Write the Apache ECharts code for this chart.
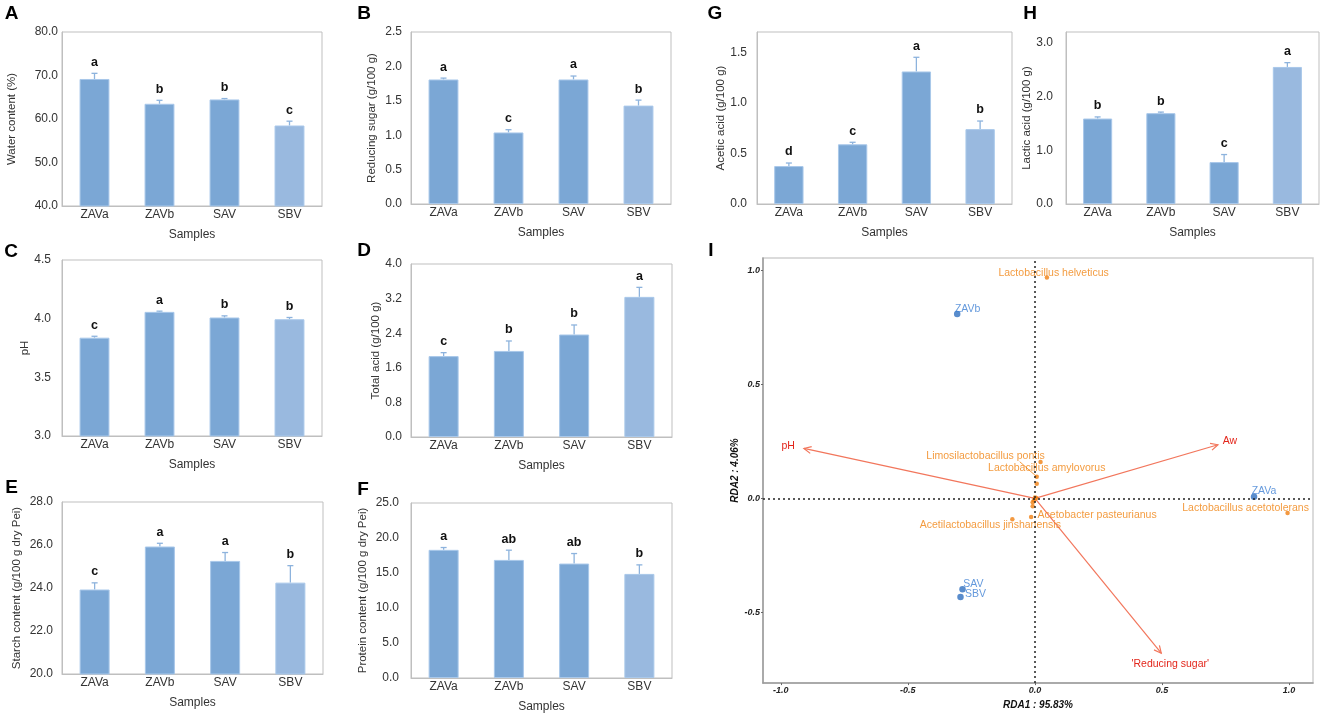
<!DOCTYPE html>
<html>
<head>
<meta charset="utf-8">
<script src="https://cdn.jsdelivr.net/npm/echarts@6/dist/echarts.min.js"></script>
<style>
html,body{margin:0;padding:0;background:#fff;}
#c{width:1325px;height:715px;}
</style>
</head>
<body>
<div id="c"></div>
<script>
// ---------- data ----------
const categories = ['ZAVa', 'ZAVb', 'SAV', 'SBV'];

const waterContent = [69.2, 63.5, 64.5, 58.5];
const waterErr = [1.3, 0.8, 0.2, 1.0];
const waterLetters = ['a', 'b', 'b', 'c'];

const reducingSugar = [1.81, 1.04, 1.81, 1.43];
const reducingErr = [0.02, 0.04, 0.05, 0.08];
const reducingLetters = ['a', 'c', 'a', 'b'];

const pHValues = [3.838, 4.058, 4.01, 3.995];
const pHErr = [0.012, 0.006, 0.014, 0.015];
const pHLetters = ['c', 'a', 'b', 'b'];

const totalAcid = [1.87, 1.99, 2.37, 3.24];
const totalAcidErr = [0.08, 0.23, 0.22, 0.22];
const totalAcidLetters = ['c', 'b', 'b', 'a'];

const starch = [23.93, 25.93, 25.26, 24.25];
const starchErr = [0.31, 0.15, 0.39, 0.79];
const starchLetters = ['c', 'a', 'a', 'b'];

const protein = [18.31, 16.87, 16.35, 14.87];
const proteinErr = [0.33, 1.39, 1.43, 1.29];
const proteinLetters = ['a', 'ab', 'ab', 'b'];

const aceticAcid = [0.375, 0.59, 1.31, 0.74];
const aceticErr = [0.03, 0.02, 0.14, 0.08];
const aceticLetters = ['d', 'c', 'a', 'b'];

const lacticAcid = [1.59, 1.69, 0.78, 2.55];
const lacticErr = [0.03, 0.02, 0.14, 0.08];
const lacticLetters = ['b', 'b', 'c', 'a'];

// RDA biplot
const sampleNames = ['ZAVa', 'ZAVb', 'SAV', 'SBV'];
const sampleX = [0.862, -0.306, -0.285, -0.293];
const sampleY = [0.007, 0.808, -0.398, -0.433];

const speciesNames = ['Lactobacillus helveticus', 'Limosilactobacillus pontis', 'Lactobacillus amylovorus',
  'Acetobacter pasteurianus', 'Acetilactobacillus jinshanensis', 'Lactobacillus acetotolerans',
  '', '', '', '', '', ''];
const speciesX = [0.047, 0.022, 0.007, -0.015, -0.089, 0.994, 0.007, 0.0, -0.009, -0.009, -0.004, 0.005];
const speciesY = [0.968, 0.159, 0.095, -0.082, -0.092, -0.064, 0.064, 0.004, -0.017, -0.034, -0.008, 0.002];

const envNames = ['pH', 'Aw', "'Reducing sugar'"];
const envX = [-0.909, 0.72, 0.497];
const envY = [0.219, 0.235, -0.679];

const xTicksRDA = [-1.0, -0.5, 0.0, 0.5, 1.0];
const yTicksRDA = [-0.5, 0.0, 0.5, 1.0];

// ---------- styles ----------
const FONT = '"Liberation Sans", Arial, sans-serif';
const barColors = ['#7ba7d5', '#7ba7d5', '#7ba7d5', '#99b9df'];
const barBorder = '#a9c8ea';
const errColor = '#8db3dd';
const sampleLabelOffsets = [[10, -5.3], [10.5, -5], [10.8, -5.3], [15, -3.3]];
const speciesLabelOffsets = [[6.7, -4.5], [-55, -6], [10, -9], [66, -1.5], [-22, 5.3], [-42, -5],
  [0, 0], [0, 0], [0, 0], [0, 0], [0, 0], [0, 0]];
const speciesLeaderOffsets = [null, null, [-17, -15], null, null, null, null, null, null, null, null, null];
const envLabelOffsets = [[-15.7, -2], [12, -4], [9, 11]];

const panels = [
  {values: waterContent, errs: waterErr, letters: waterLetters, name: 'Water content (%)',
   grid: {left: 62, top: 32, width: 260, height: 174}, min: 40, max: 80, interval: 10, lm: 4, ng: 44},
  {values: reducingSugar, errs: reducingErr, letters: reducingLetters, name: 'Reducing sugar (g/100 g)',
   grid: {left: 411, top: 32, width: 260, height: 172}, min: 0, max: 2.5, interval: 0.5, lm: 9, ng: 33},
  {values: pHValues, errs: pHErr, letters: pHLetters, name: 'pH',
   grid: {left: 62, top: 260, width: 260, height: 176}, min: 3.0, max: 4.5, interval: 0.5, lm: 11, ng: 31},
  {values: totalAcid, errs: totalAcidErr, letters: totalAcidLetters, name: 'Total acid (g/100 g)',
   grid: {left: 411, top: 264, width: 261, height: 173}, min: 0, max: 4.0, interval: 0.8, lm: 9, ng: 28},
  {values: starch, errs: starchErr, letters: starchLetters, name: 'Starch content (g/100 g dry Pei)',
   grid: {left: 62, top: 502, width: 261, height: 172}, min: 20, max: 28, interval: 2, lm: 9, ng: 39},
  {values: protein, errs: proteinErr, letters: proteinLetters, name: 'Protein content (g/100 g dry Pei)',
   grid: {left: 411, top: 503, width: 261, height: 175}, min: 0, max: 25, interval: 5, lm: 12, ng: 42},
  {values: aceticAcid, errs: aceticErr, letters: aceticLetters, name: 'Acetic acid (g/100 g)',
   grid: {left: 757, top: 32, width: 255, height: 172}, min: 0, max: 1.7, interval: 0.5, lm: 10, ng: 26, hideMax: true},
  {values: lacticAcid, errs: lacticErr, letters: lacticLetters, name: 'Lactic acid (g/100 g)',
   grid: {left: 1066, top: 32, width: 253, height: 172}, min: 0, max: 3.2, interval: 1.0, lm: 13, ng: 25, hideMax: true}
];

const grids = [], xAxes = [], yAxes = [], series = [];
const txt = {color: '#333', fontSize: 12, fontFamily: FONT};
const titleTxt = {color: '#333', fontSize: 11.5, fontFamily: FONT};

panels.forEach((p, k) => {
  grids.push(Object.assign({show: true, borderColor: '#bfbfbf', borderWidth: 1}, p.grid));
  xAxes.push({
    type: 'category', gridIndex: k, data: categories,
    axisLine: {lineStyle: {color: '#bfbfbf'}}, axisTick: {show: false},
    axisLabel: Object.assign({margin: 3}, txt),
    name: 'Samples', nameLocation: 'middle', nameGap: 23, nameTextStyle: txt
  });
  yAxes.push({
    type: 'value', gridIndex: k, min: p.min, max: p.max, interval: p.interval,
    splitLine: {show: false}, axisLine: {show: true, lineStyle: {color: '#bfbfbf'}}, axisTick: {show: false},
    axisLabel: Object.assign({margin: p.lm, formatter: v => v.toFixed(1), showMaxLabel: !p.hideMax}, txt),
    name: p.name, nameLocation: 'middle', nameGap: p.ng, nameTextStyle: titleTxt
  });
  series.push({
    type: 'bar', xAxisIndex: k, yAxisIndex: k, barWidth: '46%', silent: true,
    data: p.values.map((v, i) => ({value: v, itemStyle: {color: barColors[i], borderColor: barBorder, borderWidth: 1}}))
  });
  const letters = p.letters;
  series.push({
    type: 'custom', xAxisIndex: k, yAxisIndex: k, clip: false, silent: true,
    data: p.values.map((v, i) => [i, v, p.errs[i]]),
    renderItem: function (params, api) {
      const i = api.value(0), v = api.value(1), e = api.value(2);
      const b = api.coord([i, v]), t = api.coord([i, v + e]);
      const cap = 3;
      return {type: 'group', children: [
        {type: 'line', shape: {x1: b[0], y1: b[1], x2: t[0], y2: t[1]}, style: {stroke: errColor, lineWidth: 1.3}},
        {type: 'line', shape: {x1: t[0] - cap, y1: t[1], x2: t[0] + cap, y2: t[1]}, style: {stroke: errColor, lineWidth: 1.3}},
        {type: 'text', x: t[0], y: t[1] - 11, style: {text: letters[params.dataIndex], fill: '#111',
          font: 'bold 12.5px ' + FONT, align: 'center', verticalAlign: 'middle'}}
      ]};
    }
  });
});

// ---------- RDA panel ----------
const gi = 8;
const rdaTick = {fontSize: 9, fontWeight: 'bold', fontStyle: 'italic', color: '#222', fontFamily: FONT};
const rdaName = {fontSize: 10, fontWeight: 'bold', fontStyle: 'italic', color: '#111', fontFamily: FONT};
grids.push({show: true, left: 763, top: 258, width: 550, height: 427, borderColor: '#cfcfcf', borderWidth: 1.5});
xAxes.push({
  type: 'value', gridIndex: gi, min: -1.07, max: 1.094,
  splitLine: {show: false}, axisLine: {show: true, onZero: false, lineStyle: {color: '#9a9a9a', width: 1.5}},
  axisTick: {show: true, length: 2, customValues: xTicksRDA, lineStyle: {color: '#666'}},
  axisLabel: Object.assign({customValues: xTicksRDA, margin: 3, formatter: v => v.toFixed(1)}, rdaTick),
  name: 'RDA1 : 95.83%', nameLocation: 'middle', nameGap: 9, nameTextStyle: rdaName
});
yAxes.push({
  type: 'value', gridIndex: gi, min: -0.81, max: 1.054,
  splitLine: {show: false}, axisLine: {show: true, onZero: false, lineStyle: {color: '#9a9a9a', width: 1.5}},
  axisTick: {show: true, length: 2, customValues: yTicksRDA, lineStyle: {color: '#666'}},
  axisLabel: Object.assign({customValues: yTicksRDA, margin: 3, formatter: v => v.toFixed(1)}, rdaTick),
  name: 'RDA2 : 4.06%', nameLocation: 'middle', nameGap: 21, nameTextStyle: rdaName
});

// dotted zero lines
series.push({
  type: 'scatter', xAxisIndex: gi, yAxisIndex: gi, data: [], silent: true,
  markLine: {symbol: 'none', silent: true, label: {show: false},
    lineStyle: {color: '#222', type: [2, 3], width: 1.5},
    data: [{xAxis: 0}, {yAxis: 0}]}
});

// environmental arrows
series.push({
  type: 'custom', xAxisIndex: gi, yAxisIndex: gi, clip: false, silent: true,
  data: envX.map((x, i) => [x, envY[i]]),
  renderItem: function (params, api) {
    const s = api.coord([0, 0]), e = api.coord([api.value(0), api.value(1)]);
    const ang = Math.atan2(e[1] - s[1], e[0] - s[0]);
    const L = 8, w = 0.45;
    const p1 = [e[0] - L * Math.cos(ang - w), e[1] - L * Math.sin(ang - w)];
    const p2 = [e[0] - L * Math.cos(ang + w), e[1] - L * Math.sin(ang + w)];
    const off = envLabelOffsets[params.dataIndex];
    const col = '#f2765c';
    return {type: 'group', children: [
      {type: 'line', shape: {x1: s[0], y1: s[1], x2: e[0], y2: e[1]}, style: {stroke: col, lineWidth: 1.2}},
      {type: 'polyline', shape: {points: [p1, e, p2]}, style: {stroke: col, lineWidth: 1.2, fill: null}},
      {type: 'text', x: e[0] + off[0], y: e[1] + off[1], style: {text: envNames[params.dataIndex], fill: '#e3261b',
        font: '10.5px ' + FONT, align: 'center', verticalAlign: 'middle'}}
    ]};
  }
});

// species leader lines
series.push({
  type: 'custom', xAxisIndex: gi, yAxisIndex: gi, clip: false, silent: true,
  data: speciesX.map((x, i) => [x, speciesY[i]]),
  renderItem: function (params, api) {
    const off = speciesLeaderOffsets[params.dataIndex];
    if (!off) return null;
    const p = api.coord([api.value(0), api.value(1)]);
    return {type: 'line', shape: {x1: p[0], y1: p[1], x2: p[0] + off[0], y2: p[1] + off[1]},
      style: {stroke: '#f0820f', lineWidth: 0.8}};
  }
});

// species
series.push({
  type: 'scatter', xAxisIndex: gi, yAxisIndex: gi, symbolSize: 4.5, silent: true,
  itemStyle: {color: '#f07f12'},
  data: speciesX.map((x, i) => ({
    value: [x, speciesY[i]], name: speciesNames[i],
    label: {show: speciesNames[i] !== '', position: 'inside', offset: speciesLabelOffsets[i],
      formatter: speciesNames[i], color: '#f0820f', fontSize: 10.5, fontFamily: FONT}
  }))
});

// samples
series.push({
  type: 'scatter', xAxisIndex: gi, yAxisIndex: gi, symbolSize: 6.5, silent: true,
  itemStyle: {color: '#2f6fbf'},
  data: sampleX.map((x, i) => ({
    value: [x, sampleY[i]], name: sampleNames[i],
    label: {show: true, position: 'inside', offset: sampleLabelOffsets[i],
      formatter: sampleNames[i], color: '#3d7fd3', fontSize: 10.5, fontFamily: FONT}
  }))
});

// panel letters
const panelLetters = [['A', 11.5, 13.5], ['B', 364, 13.5], ['G', 715, 13.5], ['H', 1030, 13.5],
  ['C', 11, 251.5], ['D', 364, 251], ['E', 11.5, 488], ['F', 363, 490], ['I', 711, 251]];
const graphic = panelLetters.map(l => ({
  type: 'text', x: l[1], y: l[2],
  style: {text: l[0], font: 'bold 19px ' + FONT, fill: '#000', align: 'center', verticalAlign: 'middle'}
}));

const chart = echarts.init(document.getElementById('c'), null, {renderer: 'canvas'});
chart.setOption({
  animation: false,
  textStyle: {fontFamily: FONT},
  grid: grids, xAxis: xAxes, yAxis: yAxes, series: series, graphic: graphic
});
</script>
</body>
</html>
